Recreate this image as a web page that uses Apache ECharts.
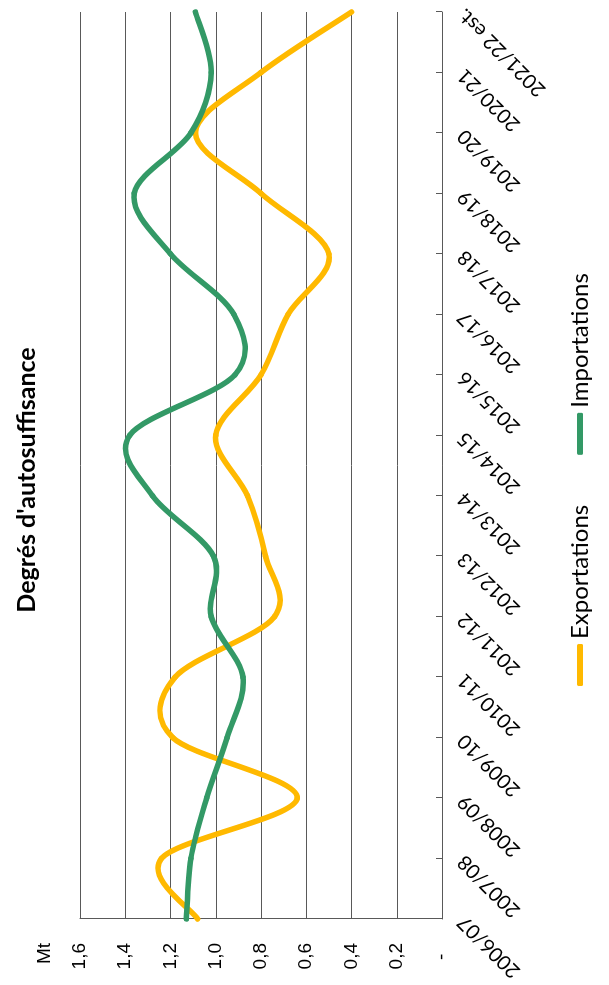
<!DOCTYPE html>
<html>
<head>
<meta charset="utf-8">
<script src="https://cdn.jsdelivr.net/npm/echarts@6/dist/echarts.min.js"></script>
<style>
	html, body { margin: 0; padding: 0; background: #fff; overflow: hidden; }
	/* the chart is drawn landscape and turned a quarter turn to the left */
	#chart {
		position: absolute;
		left: 0;
		top: 985px;
		width: 985px;
		height: 609px;
		transform-origin: 0 0;
		transform: rotate(-90deg);
	}
</style>
</head>
<body>
<div id="chart"></div>
<script>
var years = ['2006/07', '2007/08', '2008/09', '2009/10', '2010/11', '2011/12', '2012/13', '2013/14',
	'2014/15', '2015/16', '2016/17', '2017/18', '2018/19', '2019/20', '2020/21', '2021/22 est.'];
var exportations = [1.08, 1.24, 0.64, 1.19, 1.18, 0.74, 0.78, 0.86, 1.00, 0.80, 0.68, 0.50, 0.80, 1.09, 0.80, 0.40];
var importations = [1.13, 1.11, 1.04, 0.95, 0.88, 1.02, 1.01, 1.28, 1.38, 0.915, 0.92, 1.20, 1.36, 1.11, 1.02, 1.09];
var valueLabels = ['-', '0,2', '0,4', '0,6', '0,8', '1,0', '1,2', '1,4', '1,6'];

var myChart = echarts.init(document.getElementById('chart'));

// spreadsheet-style smoothed line: one bezier piece per pair of points,
// control points from the neighbours (catmull-rom, so it may overshoot)
function smoothSeries(name, values, color) {
	return {
		name: name,
		type: 'custom',
		itemStyle: { color: color },
		encode: { x: 0, y: 1 },
		data: values.map(function (v, i) { return [i, v]; }),
		renderItem: function (params, api) {
			var i = params.dataIndex;
			var n = values.length;
			if (i >= n - 1) {
				return null;
			}
			var i0 = Math.max(i - 1, 0);
			var i3 = Math.min(i + 2, n - 1);
			var p0 = api.coord([i0, values[i0]]);
			var p1 = api.coord([i, values[i]]);
			var p2 = api.coord([i + 1, values[i + 1]]);
			var p3 = api.coord([i3, values[i3]]);
			return {
				type: 'bezierCurve',
				shape: {
					x1: p1[0], y1: p1[1],
					x2: p2[0], y2: p2[1],
					cpx1: p1[0] + (p2[0] - p0[0]) / 6,
					cpy1: p1[1] + (p2[1] - p0[1]) / 6,
					cpx2: p2[0] - (p3[0] - p1[0]) / 6,
					cpy2: p2[1] - (p3[1] - p1[1]) / 6
				},
				style: {
					stroke: color,
					fill: null,
					lineWidth: 5.5,
					lineCap: 'round'
				}
			};
		}
	};
}

var option = {
	color: ['#FFB900', '#339966'],
	title: {
		text: "Degrés d'autosuffisance",
		left: 500,
		textAlign: 'center',
		top: 9,
		textStyle: {
			fontFamily: 'Lato',
			fontSize: 25,
			fontWeight: 'bold',
			color: '#000'
		}
	},
	legend: {
		data: ['Exportations', 'Importations'],
		bottom: 12,
		left: 294,
		icon: 'roundRect',
		itemWidth: 42,
		itemHeight: 6,
		itemGap: 50,
		textStyle: {
			fontFamily: 'Lato',
			fontSize: 24,
			color: '#000'
		}
	},
	grid: {
		left: 66,
		right: 12,
		top: 80,
		bottom: 167
	},
	xAxis: {
		type: 'category',
		boundaryGap: false,
		data: years,
		axisLine: { lineStyle: { color: '#595959', width: 1 } },
		axisTick: { inside: true, length: 6, lineStyle: { color: '#595959' } },
		axisLabel: {
			rotate: 45,
			margin: 19,
			fontFamily: 'Lato',
			fontSize: 20,
			color: '#000'
		}
	},
	yAxis: {
		type: 'value',
		min: 0,
		max: 1.6,
		interval: 0.2,
		name: 'Mt',
		nameLocation: 'end',
		nameGap: 26,
		nameTextStyle: {
			align: 'right',
			padding: [0, 24, 0, 0],
			fontFamily: 'Liberation Sans',
			fontSize: 19,
			color: '#000'
		},
		axisLine: { show: true, lineStyle: { color: '#595959', width: 1 } },
		axisTick: { show: false },
		splitLine: { lineStyle: { color: '#595959', width: 1 } },
		axisLabel: {
			margin: 24,
			fontFamily: 'Liberation Sans',
			fontSize: 19,
			color: '#000',
			formatter: function (v) {
				var s = valueLabels[Math.round(v / 0.2)];
				// the zero dash sits a little in from the other labels
				return s === '-' ? s + '  ' : s;
			}
		}
	},
	series: [
		smoothSeries('Exportations', exportations, '#FFB900'),
		smoothSeries('Importations', importations, '#339966')
	]
};
myChart.setOption(option);
</script>
</body>
</html>
